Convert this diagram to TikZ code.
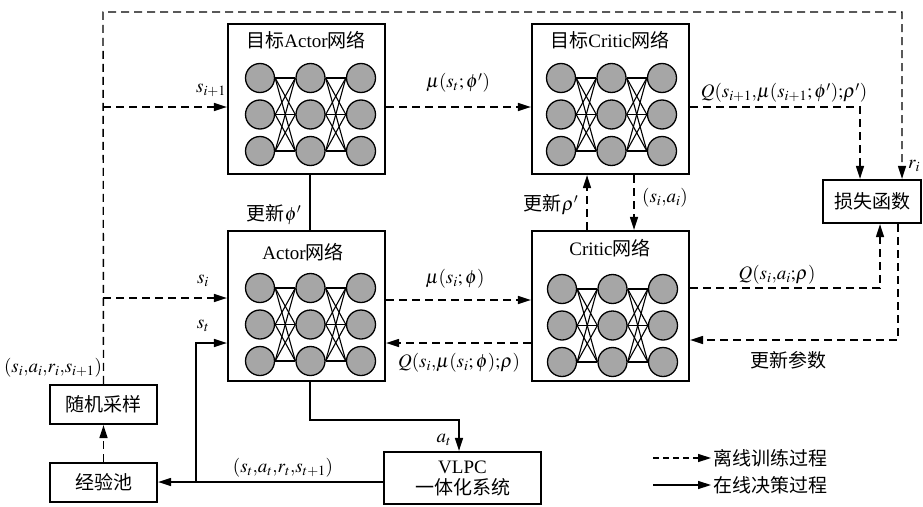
\documentclass[tikz,border=0pt]{standalone}
\usepackage{mathptmx}
\usepackage{fontspec}
\setmainfont{Liberation Serif}
\newfontfamily\cjk{Noto Sans CJK SC}
\usetikzlibrary{arrows.meta}
\definecolor{nodegray}{RGB}{166,166,166}
\newcommand{\zh}[1]{{\cjk #1}}
% 3x3 fully connected network: prefix, x and y of the first neuron centre
\newcommand{\neuralnet}[3]{%
  \foreach \c in {0,1,2}{\foreach \r in {0,1,2}{%
    \node[neuron] (#1-\c-\r) at ({#2+50.5*\c},{#3+36.5*\r}) {};}}%
  \foreach \c/\d in {0/1,1/2}{\foreach \r in {0,1,2}{\foreach \s in {0,1,2}{%
    \draw[wire] (#1-\c-\r.east) -- (#1-\d-\s.west);}}}%
}
\begin{document}
\begin{tikzpicture}[x=1pt,y=-1pt,
  every node/.style={font=\fontsize{19}{23}\selectfont},
  netbox/.style={draw,line width=2.2pt,minimum width=157pt,minimum height=150pt,inner sep=0pt},
  plainbox/.style={draw,line width=2.2pt,inner sep=0pt,align=center},
  neuron/.style={circle,draw,line width=1.3pt,fill=nodegray,minimum size=29pt,inner sep=0pt},
  wire/.style={line width=1.1pt},
  conn/.style={line width=1.4pt},
  dl/.style={conn,dash pattern=on 8pt off 5pt},
  arr/.style={-{Triangle[length=13pt,width=8pt]}},
  lbl/.style={inner sep=1pt}]
\useasboundingbox (0,0) rectangle (923,506);

% boxes
\node[netbox] (ta) at (306.5,99) {};
\node[netbox] (tc) at (610.5,99) {};
\node[netbox] (ac) at (306.5,306) {};
\node[netbox] (cr) at (610.5,306) {};
\node[plainbox,minimum width=98pt,minimum height=43pt] (loss) at (872,201.5) {\zh{损失函数}};
\node[plainbox,minimum width=107pt,minimum height=39pt] (samp) at (103.5,404.5) {\zh{随机采样}};
\node[plainbox,minimum width=107pt,minimum height=39pt] (pool) at (103.5,482.5) {\zh{经验池}};
\node[plainbox,minimum width=157pt,minimum height=52pt] (vlpc) at (462.5,478) {VLPC\\[-2pt]\zh{一体化系统}};

% titles
\node (tat) at (306,40) {\zh{目标}Actor\zh{网络}};
\node (tct) at (610,40) {\zh{目标}Critic\zh{网络}};
\node (act) at (303,252) {Actor\zh{网络}};
\node (crt) at (610,248) {Critic\zh{网络}};

% networks
\neuralnet{nta}{260}{78}
\neuralnet{ntc}{561}{78}
\neuralnet{nac}{260}{288}
\neuralnet{ncr}{562}{289}

% replay sample loop (offline)
\coordinate (topL) at (103,12);
\coordinate (topR) at (902,12);
\coordinate (jA) at (103,107);
\coordinate (jB) at (103,298);
\draw[dl,arr] (samp.north) -- (topL) -- (topR) -- (topR |- loss.north);
\draw[dl,arr] (jA) -- (jA -| ta.west);
\draw[dl,arr] (jB) -- (jB -| ac.west);
\draw[dl,arr] (pool.north) -- (samp.south);

% target networks
\coordinate (q1) at (860,107);
\draw[dl,arr] (ta.east |- jA) -- (tc.west |- jA);
\draw[dl,arr] (tc.east |- q1) -- (q1) -- (q1 |- loss.north);
\draw[conn] ([xshift=3.5pt]ta.south) -- ([xshift=3.5pt]ac.north);
\draw[dl,arr] ([xshift=-23.5pt]cr.north) -- ([xshift=-23.5pt]tc.south);
\draw[dl,arr] ([xshift=23.5pt]tc.south) -- ([xshift=23.5pt]cr.north);

% actor / critic
\draw[dl,arr] ([yshift=6pt]ac.east) -- ([yshift=6pt]cr.west);
\draw[dl,arr] ([yshift=-37pt]cr.west) -- ([yshift=-37pt]ac.east);
\draw[dl,arr] ([yshift=18pt]cr.east) -| ([xshift=8pt]loss.south);
\draw[dl,arr] ([xshift=26pt]loss.south) |- ([yshift=-34pt]cr.east);

% online decision loop
\coordinate (jt) at (196,482);
\draw[conn,arr] ([xshift=3.5pt]ac.south) -- ++(0,38) -| ([xshift=-3.5pt]vlpc.north);
\draw[conn,arr] ([yshift=-4pt]vlpc.west) -- ([yshift=-4pt]vlpc.west -| pool.east);
\draw[conn,arr] (jt) |- ([yshift=-37pt]ac.west);

% labels
\node[lbl] (l1) at (211,90) {$s_{i+1}$};
\node[lbl] (l2) at (203,281) {$s_i$};
\node[lbl] (l3) at (203,326) {$s_t$};
\node[lbl] (l4) at (458,83) {$\mu(s_t;\phi')$};
\node[lbl] (l5) at (784,93) {$Q(s_{i+1}{,}\mu(s_{i+1};\phi'){;}\rho')$};
\node[lbl] (l6) at (274,215) {\zh{更新}$\phi'$};
\node[lbl] (l7) at (551,205) {\zh{更新}$\rho'$};
\node[lbl] (l8) at (665,198) {$(s_i{,}a_i)$};
\node[lbl] (l9) at (455,279) {$\mu(s_i;\phi)$};
\node[lbl] (l10) at (459,363) {$Q(s_i{,}\mu(s_i;\phi){;}\rho)$};
\node[lbl] (l11) at (777,275) {$Q(s_i{,}a_i{;}\rho)$};
\node[lbl] (l12) at (788,360) {\zh{更新参数}};
\node[lbl] (l13) at (914,166) {$r_i$};
\node[lbl] (l14) at (53,368) {$(s_i{,}a_i{,}r_i{,}s_{i+1})$};
\node[lbl] (l15) at (444,440) {$a_t$};
\node[lbl] (l16) at (283,468) {$(s_t{,}a_t{,}r_t{,}s_{t+1})$};

% legend
\node[anchor=west,inner sep=0pt] (lg1) at (713,458) {\zh{离线训练过程}};
\node[anchor=west,inner sep=0pt] (lg2) at (713,485) {\zh{在线决策过程}};
\draw[dl,arr,dash pattern=on 6pt off 4pt] ([xshift=-60pt]lg1.west) -- ([xshift=-2pt]lg1.west);
\draw[conn,arr] ([xshift=-60pt]lg2.west) -- ([xshift=-2pt]lg2.west);
\end{tikzpicture}
\end{document}
